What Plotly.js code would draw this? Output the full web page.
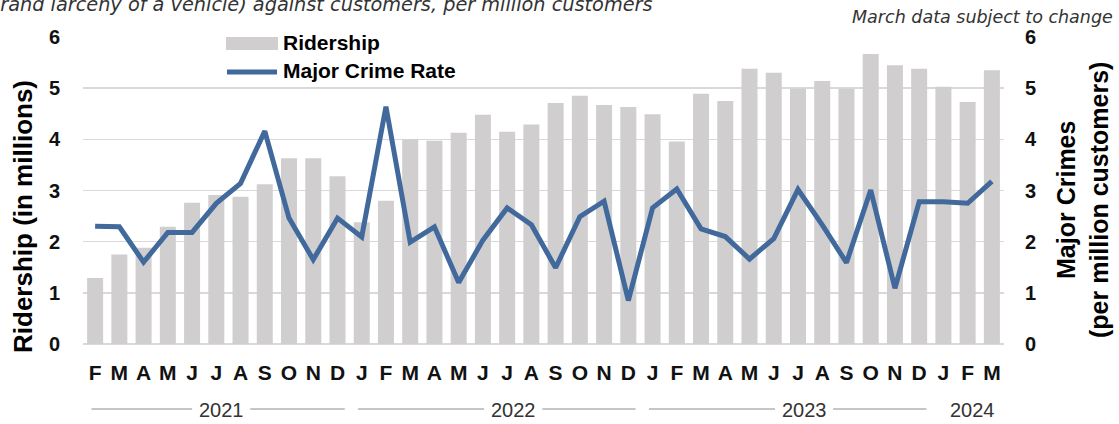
<!DOCTYPE html>
<html><head><meta charset="utf-8">
<script src="https://cdn.plot.ly/plotly-3.0.1.min.js"></script>
<style>html,body{margin:0;padding:0;background:#fff;overflow:hidden}#chart{width:1119px;height:424px}</style>
</head><body><div id="chart"></div>
<script>
// ---- data ----
const months = [
  'Feb 2021','Mar 2021','Apr 2021','May 2021','Jun 2021','Jul 2021','Aug 2021','Sep 2021','Oct 2021','Nov 2021','Dec 2021',
  'Jan 2022','Feb 2022','Mar 2022','Apr 2022','May 2022','Jun 2022','Jul 2022','Aug 2022','Sep 2022','Oct 2022','Nov 2022','Dec 2022',
  'Jan 2023','Feb 2023','Mar 2023','Apr 2023','May 2023','Jun 2023','Jul 2023','Aug 2023','Sep 2023','Oct 2023','Nov 2023','Dec 2023',
  'Jan 2024','Feb 2024','Mar 2024'
];
const monthLetters = [
  'F','M','A','M','J','J','A','S','O','N','D',
  'J','F','M','A','M','J','J','A','S','O','N','D',
  'J','F','M','A','M','J','J','A','S','O','N','D',
  'J','F','M'
];
const ridership = [
  1.29,1.75,1.88,2.29,2.76,2.91,2.88,3.12,3.63,3.63,3.28,
  2.38,2.80,4.00,3.97,4.13,4.48,4.15,4.29,4.71,4.85,4.67,4.63,
  4.49,3.96,4.89,4.75,5.38,5.30,4.99,5.14,4.99,5.67,5.45,5.38,
  5.03,4.73,5.35
];
const crimeRate = [
  2.30,2.29,1.60,2.18,2.18,2.75,3.14,4.16,2.46,1.65,2.46,
  2.09,4.64,1.99,2.29,1.20,2.03,2.66,2.33,1.49,2.49,2.79,0.85,
  2.66,3.03,2.25,2.10,1.66,2.06,3.02,2.33,1.59,3.01,1.09,2.78,
  2.78,2.75,3.18
];
const seriesNames = ['Ridership','Major Crime Rate'];
const leftAxisTitle = 'Ridership (in millions)';
const rightAxisTitle = 'Major Crimes<br>(per million customers)';
const subtitleText = 'grand larceny of a vehicle) against customers, per million customers';
const noteText = 'March data subject to change';

// ---- layout helpers ----
const W = 1119, H = 424;
const M = {l: 83, r: 115, t: 37, b: 80};
const pw = W - M.l - M.r, ph = H - M.t - M.b;
const px2x = px => (px - M.l) / pw;
const py2y = py => (H - M.b - py) / ph;

const FONT = 'Liberation Sans, Arial, Helvetica, sans-serif';
const barColor = '#d0cece';
const lineColor = '#41699c';
const gridColor = '#d9d9d9';

// year groups derived from month categories
const groups = [];
months.forEach((m, i) => {
  const y = m.split(' ')[1];
  const g = groups[groups.length - 1];
  if (g && g.year === y) g.last = i; else groups.push({year: y, first: i, last: i});
});

const shapes = [];
const annotations = [];
const yearY = py2y(409);
groups.forEach(g => {
  const n = g.last - g.first + 1;
  const c = (g.first + g.last) / 2 + (n >= 12 ? 0.75 : 0.2);
  annotations.push({xref: 'x', yref: 'paper', x: c, y: py2y(410), text: g.year, showarrow: false,
    xanchor: 'center', yanchor: 'middle', font: {family: FONT, size: 20, color: '#333'}});
  if (n >= 6) {
    shapes.push({type: 'line', xref: 'x', yref: 'paper', x0: g.first - 0.15, x1: c - 1.2, y0: yearY, y1: yearY,
      line: {color: '#8c8c8c', width: 1}});
    shapes.push({type: 'line', xref: 'x', yref: 'paper', x0: c + 1.2, x1: g.last + 0.3, y0: yearY, y1: yearY,
      line: {color: '#8c8c8c', width: 1}});
  }
});

// custom legend (white box over top gridline, swatches, labels)
shapes.push({type: 'rect', xref: 'paper', yref: 'paper', x0: px2x(196), x1: px2x(483), y0: py2y(84), y1: py2y(28),
  fillcolor: '#ffffff', line: {width: 0}, layer: 'above'});
shapes.push({type: 'rect', xref: 'paper', yref: 'paper', x0: px2x(226), x1: px2x(278), y0: py2y(50), y1: py2y(37),
  fillcolor: barColor, line: {width: 0}, layer: 'above'});
shapes.push({type: 'line', xref: 'paper', yref: 'paper', x0: px2x(227), x1: px2x(277), y0: py2y(72), y1: py2y(72),
  line: {color: lineColor, width: 5}, layer: 'above'});
annotations.push({xref: 'paper', yref: 'paper', x: px2x(281), y: py2y(42), text: seriesNames[0], showarrow: false,
  xanchor: 'left', yanchor: 'middle', font: {family: FONT, size: 21, color: '#000', weight: 'bold'}});
annotations.push({xref: 'paper', yref: 'paper', x: px2x(281), y: py2y(70), text: seriesNames[1], showarrow: false,
  xanchor: 'left', yanchor: 'middle', font: {family: FONT, size: 21, color: '#000', weight: 'bold'}});

// top texts
annotations.push({xref: 'paper', yref: 'paper', x: px2x(-14), y: py2y(5), text: subtitleText, showarrow: false,
  xanchor: 'left', yanchor: 'middle', font: {family: 'DejaVu Sans, sans-serif', size: 19.3, color: '#333', style: 'italic'}});
annotations.push({xref: 'paper', yref: 'paper', x: px2x(1115), y: py2y(17), text: noteText, showarrow: false,
  xanchor: 'right', yanchor: 'middle', font: {family: 'DejaVu Sans, sans-serif', size: 17.5, color: '#333', style: 'italic'}});

// axis titles
annotations.push({xref: 'paper', yref: 'paper', x: px2x(23), y: py2y(217), text: leftAxisTitle, textangle: -90, showarrow: false,
  xanchor: 'center', yanchor: 'middle', font: {family: FONT, size: 26, color: '#000', weight: 'bold'}});
annotations.push({xref: 'paper', yref: 'paper', x: px2x(1082), y: py2y(200), text: rightAxisTitle, textangle: -90, showarrow: false,
  xanchor: 'center', yanchor: 'middle', font: {family: FONT, size: 25, color: '#000', weight: 'bold'}});

const traces = [
  {type: 'bar', x: months, y: ridership, name: seriesNames[0], marker: {color: barColor}, yaxis: 'y', showlegend: false, hoverinfo: 'skip'},
  {type: 'scatter', mode: 'lines', x: months, y: crimeRate, name: seriesNames[1], yaxis: 'y2',
   line: {color: lineColor, width: 5}, showlegend: false, hoverinfo: 'skip'}
];

const layout = {
  width: W, height: H, autosize: false,
  margin: M,
  paper_bgcolor: '#ffffff', plot_bgcolor: 'rgba(0,0,0,0)',
  bargap: 0.34,
  showlegend: false,
  xaxis: {type: 'category', categoryorder: 'array', categoryarray: months,
    tickmode: 'array', tickvals: months, ticktext: monthLetters, tickangle: 0,
    ticks: '', ticklabelstandoff: 14, showgrid: false, zeroline: false, showline: false,
    tickfont: {family: FONT, size: 21, color: '#111', weight: 'bold'}},
  yaxis: {range: [0, 6], tick0: 0, dtick: 1, ticks: '', showline: false,
    showgrid: true, gridcolor: gridColor, gridwidth: 1.5,
    zeroline: true, zerolinecolor: gridColor, zerolinewidth: 1.5,
    ticklabelstandoff: 22,
    tickfont: {family: FONT, size: 20, color: '#111', weight: 'bold'}},
  yaxis2: {range: [0, 6], tick0: 0, dtick: 1, overlaying: 'y', side: 'right', ticks: '',
    showgrid: false, zeroline: false, showline: false, ticklabelstandoff: 20,
    tickfont: {family: FONT, size: 20, color: '#111', weight: 'bold'}},
  shapes: shapes,
  annotations: annotations
};

Plotly.newPlot('chart', traces, layout, {staticPlot: true, displayModeBar: false});
</script>
</body></html>
